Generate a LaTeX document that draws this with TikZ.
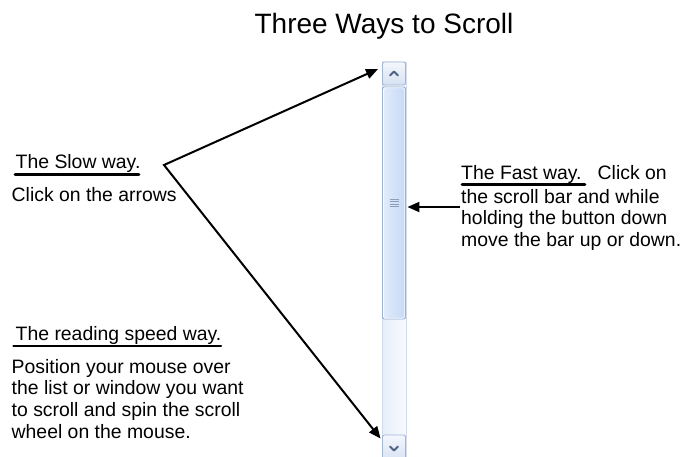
\documentclass[tikz,border=0pt]{standalone}
\usepackage{fontspec}
\setmainfont{Liberation Sans}
\usetikzlibrary{arrows.meta}
\definecolor{trackL}{HTML}{E6EEFA}
\definecolor{trackR}{HTML}{F8FAFE}
\definecolor{trackB}{HTML}{D2DCEA}
\definecolor{thumbL}{HTML}{E2ECFB}
\definecolor{thumbR}{HTML}{C6D9F5}
\definecolor{thumbB}{HTML}{93AACF}
\definecolor{btnT}{HTML}{F4F7FC}
\definecolor{btnB}{HTML}{D6E1F2}
\definecolor{btnE}{HTML}{A3B6D4}
\definecolor{chevC}{HTML}{4D6185}
\definecolor{gripC}{HTML}{8E9DB8}
\begin{document}
\begin{tikzpicture}[x=1pt,y=-1pt,
  ttl/.style={font=\fontsize{28}{32}\selectfont, inner sep=0pt, anchor=base},
  lbl/.style={font=\fontsize{19.4}{21.7}\selectfont, inner sep=0pt, align=left, anchor=base west},
  uline/.style={line width=2.6pt, line cap=round},
  arr/.style={line width=2pt, line join=miter, -{Triangle[length=12pt,width=10pt]}},
  vee/.style={line width=2pt, line join=miter, {Triangle[length=12pt,width=10pt]}-{Triangle[length=12pt,width=10pt]}},
  trackbox/.style={draw=trackB, left color=trackL, right color=trackR, inner sep=0pt, minimum width=24pt},
  thumbbox/.style={draw=thumbB, line width=0.9pt, left color=thumbL, right color=thumbR, rounded corners=2pt, inner sep=0pt, minimum width=23pt},
  btnbox/.style={draw=btnE, line width=0.9pt, top color=btnT, bottom color=btnB, rounded corners=2pt, inner sep=0pt, minimum width=23pt, minimum height=23pt},
  chev/.style={draw=chevC, line width=1.8pt, line cap=round, line join=round},
  grip/.style={draw=gripC, line width=0.9pt}
]
\useasboundingbox[fill=white] (0,0) rectangle (680,457);

% title
\node[ttl] (title) at (384,33.3) {Three Ways to Scroll};

% scroll bar
\node[trackbox, minimum height=398pt] (track) at (394,261) {};
\node[btnbox] (upbtn) at (394,73.5) {};
\node[thumbbox, minimum height=232pt] (thumb) at (394,203) {};
\node[btnbox, minimum height=27pt] (downbtn) at (394,448.5) {};
\draw[white, line width=0.8pt, rounded corners=1.5pt, opacity=0.8]
  ([xshift=1.3pt,yshift=-1.3pt]thumb.north west) rectangle ([xshift=-1.3pt,yshift=1.3pt]thumb.south east);
\foreach \d in {-3.9,-1.3,1.3,3.9}
  \draw[grip] ([xshift=-4.5pt,yshift=\d pt]thumb.center) -- ++(9,0);
\draw[chev] ([xshift=-4pt,yshift=-2pt]upbtn.center) -- ++(4,-4) -- ++(4,4);
\draw[chev] ([xshift=-4pt,yshift=2pt]downbtn.center) -- ++(4,4) -- ++(4,-4);

% slow way
\node[lbl] (slowhead) at (15.5,169) {The Slow way.};
\draw[uline] (15,174.5) -- (139,174.5);
\node[lbl] (slowbody) at (11.5,202) {Click on the arrows};

% reading speed way (base anchor = last line)
\node[lbl] (readhead) at (15.5,340) {The reading speed way.};
\draw[uline] (13.5,346) -- (221,346);
\node[lbl] (readbody) at (11.5,438.1) {Position your mouse over\\the list or window you want\\to scroll and spin the scroll\\wheel on the mouse.};

% fast way (base anchor = last line)
\node[lbl] (fasttext) at (461,246.6) {The Fast way.\ \ \ Click on\\[2pt]the scroll bar and while\\holding the button down\\move the bar up or down.};
\draw[uline] (462,184.5) -- (585,184.5);

% connectors
\coordinate (slowv) at (164,165);
\coordinate (faststart) at (460,207);
\draw[vee] ([xshift=-4pt,yshift=4.5pt]upbtn.west) -- (slowv) -- ([xshift=-1.5pt,yshift=-4pt]downbtn.north west);
\draw[arr] (faststart) -- ([xshift=1.5pt,yshift=-4pt]thumb.east);
\end{tikzpicture}
\end{document}
